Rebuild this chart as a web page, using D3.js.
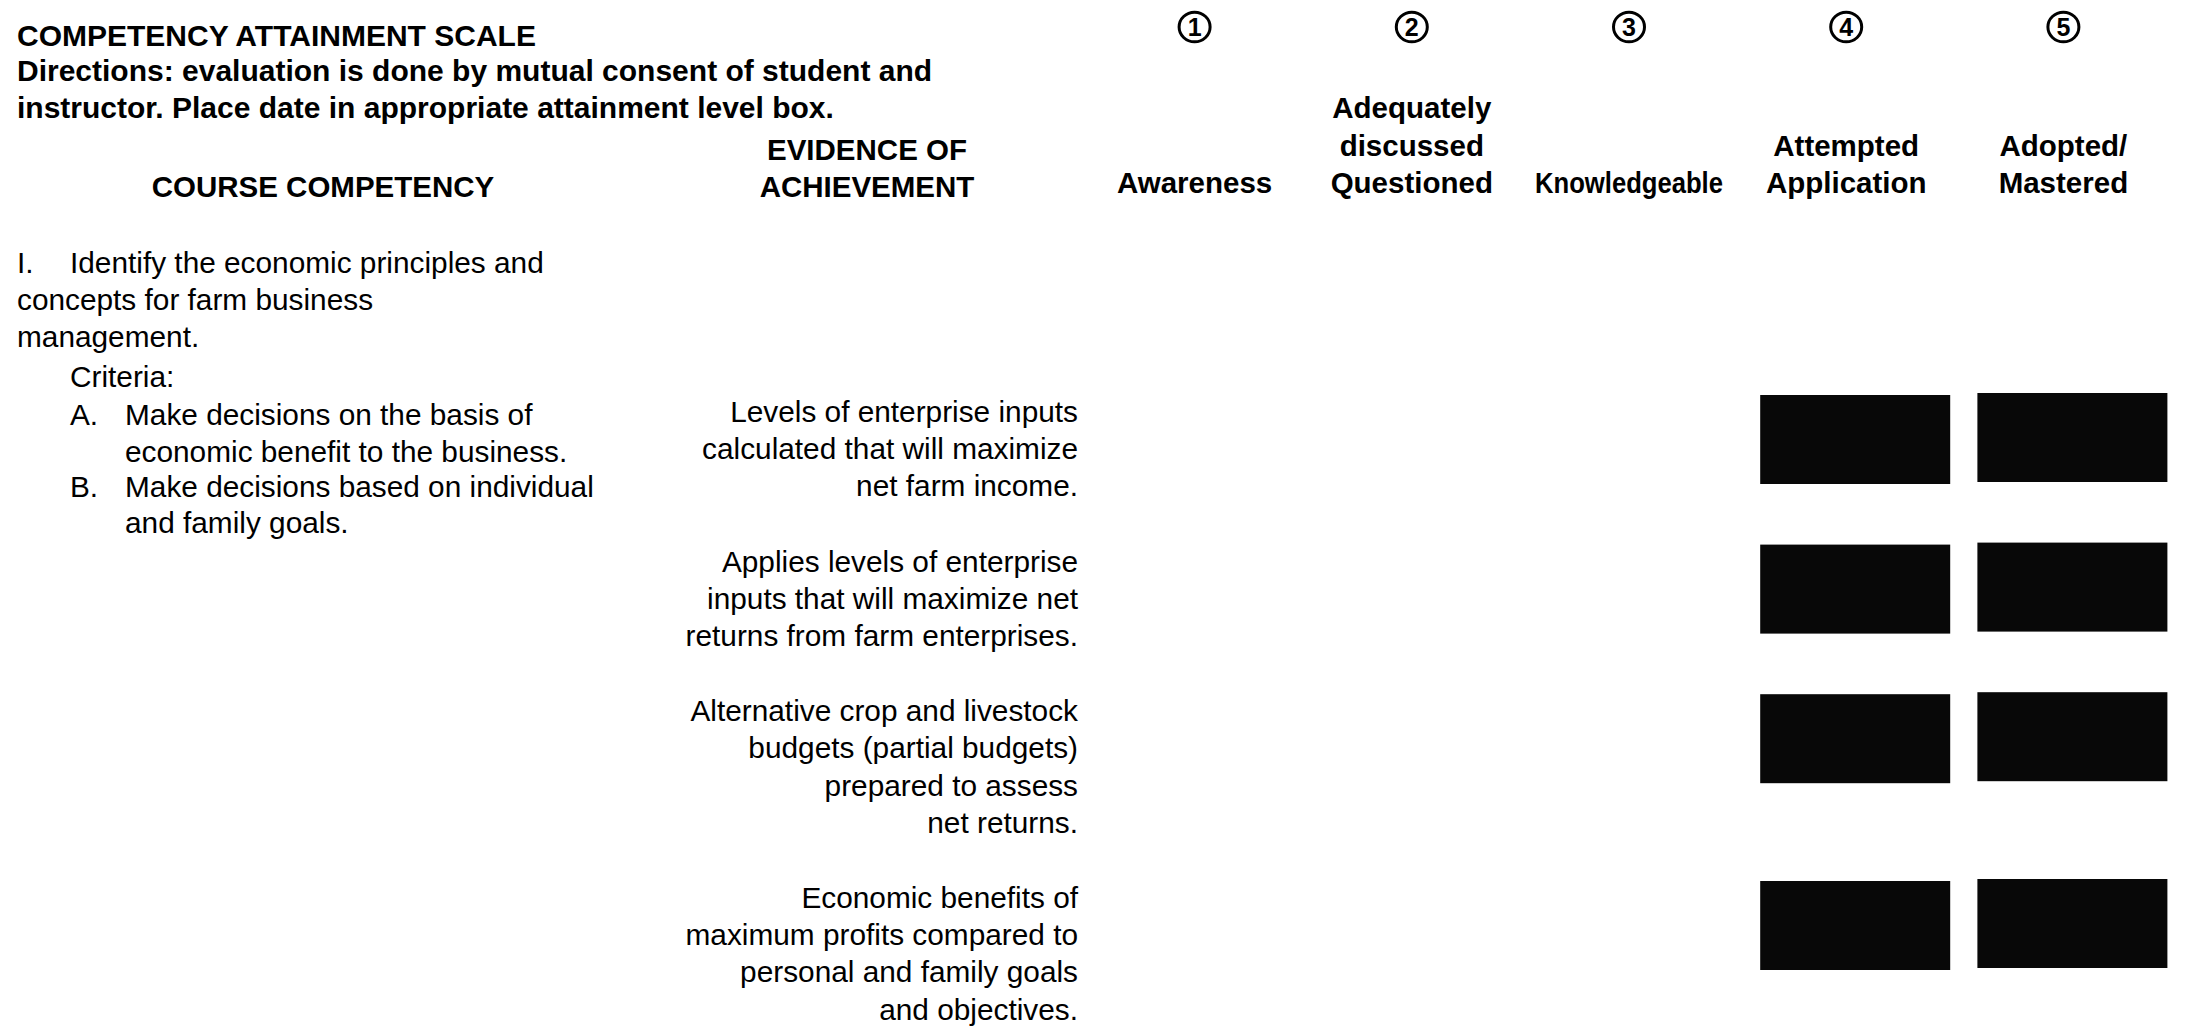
<!DOCTYPE html>
<html>
<head>
<meta charset="utf-8">
<script src="https://cdn.jsdelivr.net/npm/d3@7"></script>
<style>
  html, body { margin: 0; padding: 0; background: #fff; }
  svg { display: block; }
  text { font-family: "Liberation Sans", Arial, Helvetica, sans-serif; fill: #000; }
</style>
</head>
<body>
<svg id="chart" width="2186" height="1033"></svg>
<script>
// ---------------- data ----------------
const titleLines = [
  "COMPETENCY ATTAINMENT SCALE",
  "Directions: evaluation is done by mutual consent of student and",
  "instructor. Place date in appropriate attainment level box."
];
const columnHeads = {
  competency: ["COURSE COMPETENCY"],
  evidence: ["EVIDENCE OF", "ACHIEVEMENT"]
};
const levels = [1, 2, 3, 4, 5];
const levelLabels = [
  ["Awareness"],
  ["Adequately", "discussed", "Questioned"],
  ["Knowledgeable"],
  ["Attempted", "Application"],
  ["Adopted/", "Mastered"]
];
// competency text: [marker, text, indent level]
const competencyLines = [
  ["I.", "Identify the economic principles and", 0],
  ["", "concepts for farm business", -1],
  ["", "management.", -1],
  ["", "Criteria:", 1],
  ["A.", "Make decisions on the basis of", 2],
  ["", "economic benefit to the business.", 2],
  ["B.", "Make decisions based on individual", 2],
  ["", "and family goals.", 2]
];
const evidenceRows = [
  ["Levels of enterprise inputs", "calculated that will maximize", "net farm income."],
  ["Applies levels of enterprise", "inputs that will maximize net", "returns from farm enterprises."],
  ["Alternative crop and livestock", "budgets (partial budgets)", "prepared to assess", "net returns."],
  ["Economic benefits of", "maximum profits compared to", "personal and family goals", "and objectives."]
];
// attainment levels marked (filled boxes) for each evidence row
const attained = [
  [4, 5],
  [4, 5],
  [4, 5],
  [4, 5]
];

// ---------------- layout ----------------
const svg = d3.select("#chart");
const titleSize = 30, headSize = 29.5, regSize = 29.8;
const lineH = 37.2;

const x = d3.scaleBand().domain(levels).range([1086, 2172]);
const xc = d => x(d) + x.bandwidth() / 2;

// title block
svg.append("g").selectAll("text").data(titleLines).join("text")
  .attr("x", 17)
  .attr("y", (d, i) => i === 0 ? 46 : 81 + (i - 1) * 37)
  .attr("font-size", titleSize)
  .attr("font-weight", "bold")
  .text(d => d);

// circled numbers
const circ = svg.append("g").selectAll("g").data(levels).join("g")
  .attr("transform", d => `translate(${xc(d)},27)`);
circ.append("ellipse").attr("rx", 15.5).attr("ry", 14.8)
  .attr("fill", "none").attr("stroke", "#000").attr("stroke-width", 3);
circ.append("text").attr("text-anchor", "middle").attr("y", 9.3)
  .attr("font-size", 25).attr("font-weight", "bold").text(d => d);

// level labels (bottom aligned)
const labelBase = 193;
const lv = svg.append("g").selectAll("g").data(levels).join("g");
lv.each(function(d, i) {
  const lines = levelLabels[i];
  const sel = d3.select(this).selectAll("text").data(lines).join("text")
    .attr("x", xc(d))
    .attr("y", (t, j) => labelBase - (lines.length - 1 - j) * 37.5)
    .attr("text-anchor", "middle")
    .attr("font-size", headSize)
    .attr("font-weight", "bold")
    .text(t => t);
  if (d === 3) sel.attr("textLength", 188).attr("lengthAdjust", "spacingAndGlyphs");
});

// column headings
svg.append("g").selectAll("text").data(columnHeads.competency).join("text")
  .attr("x", 323).attr("y", 197)
  .attr("text-anchor", "middle").attr("font-size", headSize).attr("font-weight", "bold")
  .text(d => d);
svg.append("g").selectAll("text").data(columnHeads.evidence).join("text")
  .attr("x", 867).attr("y", (d, i) => 160 + i * 37)
  .attr("text-anchor", "middle").attr("font-size", headSize).attr("font-weight", "bold")
  .text(d => d);

// competency column
const compBase = [273, 310, 347, 387, 425, 462, 497, 533];
const indentX = { "-1": 17, "0": 70, "1": 70, "2": 125 };
const markerX = { "0": 17, "2": 70 };
const comp = svg.append("g");
competencyLines.forEach((l, i) => {
  if (l[0]) comp.append("text").attr("x", markerX[l[2]]).attr("y", compBase[i])
    .attr("font-size", regSize).text(l[0]);
  comp.append("text").attr("x", indentX[l[2]]).attr("y", compBase[i])
    .attr("font-size", regSize).text(l[1]);
});

// evidence rows + attainment boxes
const evRight = 1078;
const firstBase = 422, rowGap = 38;
let cum = 0;
const rowStart = evidenceRows.map((r, i) => {
  const b = firstBase + cum * lineH + i * rowGap;
  cum += r.length;
  return b;
});
const ev = svg.append("g");
evidenceRows.forEach((r, i) => {
  ev.append("g").selectAll("text").data(r).join("text")
    .attr("x", evRight)
    .attr("y", (t, j) => rowStart[i] + j * lineH)
    .attr("text-anchor", "end")
    .attr("font-size", regSize)
    .text(t => t);
});

const boxW = 190, boxH = 89, boxShift = 9;
const cells = [];
attained.forEach((lvls, i) => lvls.forEach(l => cells.push({ row: i, level: l })));
svg.append("g").selectAll("rect").data(cells).join("rect")
  .attr("x", d => xc(d.level) - boxW / 2 + boxShift)
  .attr("y", d => rowStart[d.row] - 27 - (d.level === 5 ? 2 : 0))
  .attr("width", boxW)
  .attr("height", boxH)
  .attr("fill", "#080808");
</script>
</body>
</html>
